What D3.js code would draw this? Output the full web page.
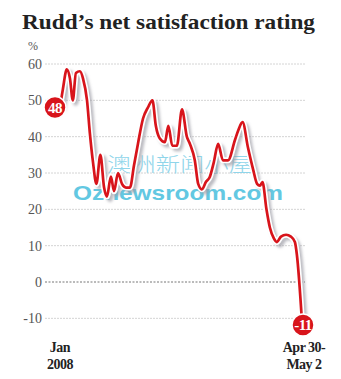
<!DOCTYPE html>
<html><head><meta charset="utf-8">
<script src="https://cdn.jsdelivr.net/npm/d3@7"></script>
<style>body{margin:0;background:#fff}svg{display:block}</style>
</head><body>
<script>
const title = "Rudd\u2019s net satisfaction rating";
const unitLabel = "%";
const yTicks = [60, 50, 40, 30, 20, 10, 0, -10];
const pollDates = ["2008-01-01","2008-01-11","2008-01-25","2008-02-05","2008-02-15","2008-02-26","2008-03-11","2008-03-22","2008-04-05","2008-04-15","2008-04-26","2008-05-08","2008-05-22","2008-06-04","2008-06-14","2008-06-28","2008-07-09","2008-07-23","2008-08-06","2008-08-20","2008-09-03","2008-09-17","2008-10-01","2008-10-19","2008-11-05","2008-11-21","2008-12-03","2008-12-17","2009-01-04","2009-01-16","2009-01-30","2009-02-15","2009-03-05","2009-03-22","2009-04-02","2009-04-19","2009-05-01","2009-05-14","2009-05-28","2009-06-11","2009-06-25","2009-07-10","2009-07-27","2009-08-14","2009-09-07","2009-09-20","2009-10-04","2009-10-23","2009-11-10","2009-11-24","2009-12-04","2009-12-13","2009-12-27","2010-01-08","2010-01-22","2010-02-02","2010-02-16","2010-03-06","2010-03-23","2010-04-06","2010-04-13","2010-05-01"];
const netSatisfaction = [48,53,58.5,56,50,57.5,58,56,50,41,33,27,35,26,23.5,29,25,30,27,26,26,32,38,45,48,50,43,39.5,38.5,43,37.5,37.5,47.5,40,38,33.5,27,25.5,27.5,29,33,38,33.5,33.5,39,42,44,37,31,27,26.5,27.5,20,15,12,11,12.5,13,12.5,11,7.5,-11];
const xLabelsStart = ["Jan", "2008"];
const xLabelsEnd = ["Apr 30-", "May 2"];
const watermarkCN = "澳洲新闻小屋";
const watermarkEN = "Oznewsroom.com";

const W = 341, H = 379;
const svg = d3.select("body").append("svg").attr("width", W).attr("height", H);
const defs = svg.append("defs");
const f = defs.append("filter").attr("id","shadow").attr("x","-10%").attr("y","-10%").attr("width","130%").attr("height","130%");
f.append("feGaussianBlur").attr("stdDeviation", 1.6);

const parse = d3.timeParse("%Y-%m-%d");
const data = pollDates.map((d, i) => ({date: parse(d), v: netSatisfaction[i]}));

const x = d3.scaleTime().domain(d3.extent(data, d => d.date)).range([60, 302]);
const y = d3.scaleLinear().domain([0, 60]).range([282, 64]);

svg.append("text").attr("x", 22).attr("y", 29)
  .attr("font-family", "Liberation Serif, serif").attr("font-weight", "bold")
  .attr("font-size", 22).attr("fill", "#222")
  .attr("textLength", 293).attr("lengthAdjust", "spacingAndGlyphs").text(title);

svg.append("text").attr("x", 33).attr("y", 50).attr("text-anchor", "middle")
  .attr("font-family", "Liberation Serif, serif").attr("font-size", 12).attr("fill", "#555").text(unitLabel);

// gridlines
const grid = svg.append("g");
yTicks.forEach(t => {
  grid.append("line").attr("x1", 45).attr("x2", 305).attr("y1", y(t)).attr("y2", y(t))
    .attr("stroke", t === 0 ? "#777" : "#d4d4d4")
    .attr("stroke-width", 1)
    .attr("stroke-dasharray", t === 0 ? "2,1.5" : "2,1");
  grid.append("text").attr("x", 42).attr("y", y(t)).attr("dy", "0.35em").attr("text-anchor", "end")
    .attr("font-family", "Liberation Serif, serif").attr("font-size", 14).attr("fill", "#555").text(t);
});

// watermark
svg.append("text").attr("x", 107).attr("y", 172)
  .attr("font-family", "Noto Sans CJK SC").attr("font-weight", 300).attr("font-size", 20)
  .attr("fill", "#8fd5ea").attr("textLength", 146).attr("lengthAdjust", "spacingAndGlyphs").text(watermarkCN);
svg.append("text").attr("x", 73).attr("y", 200)
  .attr("font-family", "Liberation Sans, Arial, sans-serif").attr("font-weight", "bold").attr("font-size", 21)
  .attr("fill", "#62c8e2").attr("textLength", 210).attr("lengthAdjust", "spacingAndGlyphs").text(watermarkEN);

const line = d3.line().x(d => x(d.date)).y(d => y(d.v)).curve(d3.curveMonotoneX);

svg.append("path").datum(data).attr("d", line).attr("fill", "none")
  .attr("stroke", "#9a9aa4").attr("stroke-opacity", 0.7).attr("stroke-width", 5)
  .attr("transform", "translate(3,3)").attr("filter", "url(#shadow)");
svg.append("path").datum(data).attr("d", line).attr("fill", "none")
  .attr("stroke", "#fff").attr("stroke-width", 6).attr("stroke-linejoin", "round");
svg.append("path").datum(data).attr("d", line).attr("fill", "none")
  .attr("stroke", "#d8141b").attr("stroke-width", 2.7).attr("stroke-linejoin", "round");

// badges
function badge(cx, cy, label) {
  svg.append("circle").attr("cx", cx).attr("cy", cy).attr("r", 11).attr("fill", "#d8141b")
    .attr("stroke", "#fff").attr("stroke-width", 1.5);
  svg.append("text").attr("x", cx).attr("y", cy).attr("dy", "0.35em").attr("text-anchor", "middle")
    .attr("font-family", "Liberation Serif, serif").attr("font-weight", "bold").attr("font-size", 15)
    .attr("fill", "#fff").attr("letter-spacing", -0.5).text(label);
}
const first = data[0], last = data[data.length - 1];
badge(x(first.date) - 5, y(first.v), first.v);
badge(x(last.date) + 1, y(last.v) + 3, last.v);

// x labels
function xLab(cx, lines) {
  lines.forEach((l, i) => svg.append("text").attr("x", cx).attr("y", 352 + i * 17).attr("text-anchor", "middle")
    .attr("font-family", "Liberation Serif, serif").attr("font-weight", "bold").attr("font-size", 14)
    .attr("fill", "#222").attr("letter-spacing", -0.5).text(l));
}
xLab(x(first.date), xLabelsStart);
xLab(x(last.date) + 2, xLabelsEnd);
</script>
</body></html>
